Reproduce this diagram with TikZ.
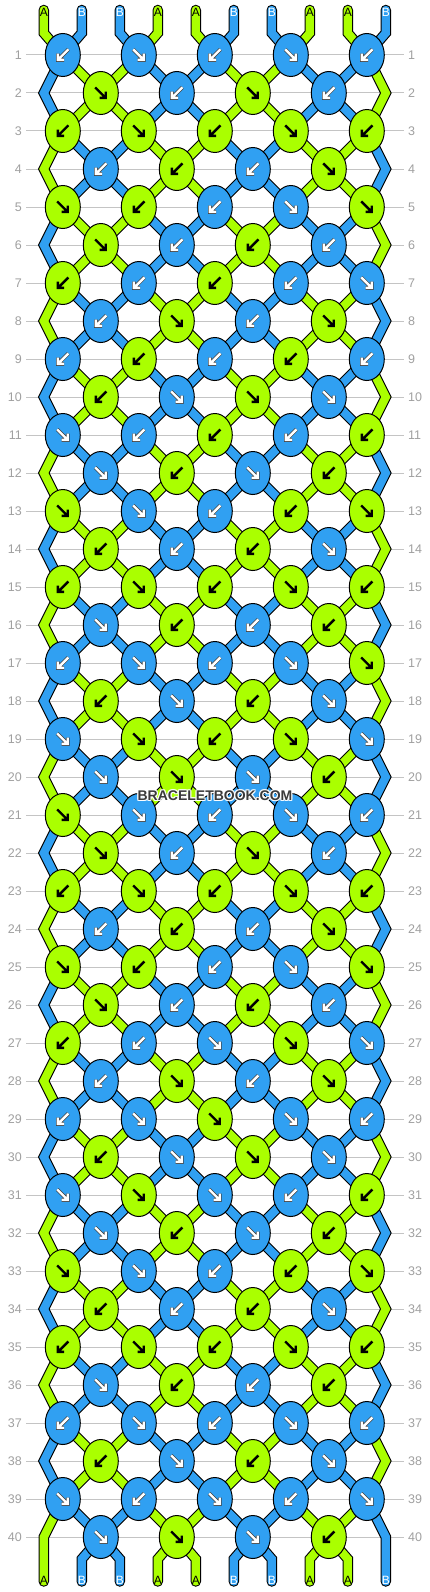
\documentclass[tikz,border=0pt]{standalone}
\usepackage{fontspec}
\setmainfont{Liberation Sans}
\usetikzlibrary{shapes.geometric}
\definecolor{c0}{HTML}{AAFF00}
\definecolor{c1}{HTML}{30A0F2}
\definecolor{gridc}{HTML}{C4C4C4}
\definecolor{numc}{HTML}{A0A0A0}
\definecolor{wmc}{HTML}{3A3A3A}
\colorlet{a0}{black}
\colorlet{a1}{white}
\colorlet{t0}{black}
\colorlet{t1}{white}
\newcommand\tipletter[1]{\ifnum#1=0 A\else B\fi}
\newcommand\knotarrow[3]{%
  \begin{scope}[shift={(#1.center)},xscale=#2]
    \ifnum#3=1
      \draw[arrowhalo] (5.6,-5.6) -- (-4.2,4.2) (-4.9,-1.3) -- (-4.9,4.9) -- (1.3,4.9);
    \fi
    \draw[arrowline,draw=a#3] (5.6,-5.6) -- (-4.2,4.2) (-4.9,-1.3) -- (-4.9,4.9) -- (1.3,4.9);
  \end{scope}}
\begin{document}
\begin{tikzpicture}[x=1pt,y=-1pt,
  gridline/.style={draw=gridc,line width=1pt},
  rownum/.style={inner sep=0pt,text=numc,font=\fontsize{12.5}{12.5}\selectfont},
  strout/.style={draw=black,line width=10.5pt,line cap=round,line join=miter},
  strfill/.style={line width=8.3pt,line cap=round,line join=miter},
  knot/.style={ellipse,draw=black,line width=1pt,minimum width=35pt,minimum height=43pt,inner sep=0pt},
  tiplab/.style={inner sep=0pt,font=\fontsize{12}{12}\selectfont},
  arrowline/.style={line width=2.4pt,line cap=butt,line join=miter},
  arrowhalo/.style={line width=3.8pt,line cap=butt,line join=miter,draw=black!75},
  wm/.style={inner sep=0pt,font=\fontsize{14}{14}\selectfont\bfseries}
]
% ---------- simulation of the strings ----------
\foreach \p/\v in {0/0,1/1,2/1,3/0,4/0,5/1,6/1,7/0,8/0,9/1}{%
  \expandafter\xdef\csname S\p\endcsname{\v}%
  \expandafter\xdef\csname G0-\p\endcsname{\v}%
}
\foreach \row [count=\rr] in {{L,R,L,R,L},{R,L,R,L},{L,R,L,R,L},{L,L,L,R},{R,L,L,R,R},
  {R,L,L,L},{L,L,L,L,R},{L,R,L,R},{L,L,L,L,L},{L,R,R,R},
  {R,L,L,L,L},{R,L,R,L},{R,R,L,L,R},{L,L,L,R},{L,R,L,R,L},
  {R,L,L,L},{L,R,L,R,R},{L,R,L,R},{R,R,L,R,R},{R,R,R,L},
  {R,R,L,R,L},{R,L,R,L},{L,R,L,R,L},{L,L,L,R},{R,L,L,R,R},
  {R,L,L,L},{L,L,R,R,R},{L,R,L,R},{L,R,R,R,L},{L,R,R,R},
  {R,R,R,L,L},{R,L,R,L},{R,R,L,L,R},{L,L,L,R},{L,R,L,R,L},
  {R,L,L,L},{L,R,L,R,L},{L,R,L,R},{R,L,R,L,R},{R,R,R,L}}{%
  \ifodd\rr\relax\def\off{0}\else\def\off{1}\fi
  \foreach \dd [count=\kk from 0] in \row {%
    \pgfmathtruncatemacro\pa{2*\kk+\off}%
    \pgfmathtruncatemacro\pb{\pa+1}%
    \edef\colA{\csname S\pa\endcsname}%
    \edef\colB{\csname S\pb\endcsname}%
    \if R\dd \let\kc\colA \else \let\kc\colB \fi
    \expandafter\xdef\csname K\rr-\kk\endcsname{\kc}%
    \expandafter\xdef\csname D\rr-\kk\endcsname{\dd}%
    \expandafter\xdef\csname S\pa\endcsname{\colB}%
    \expandafter\xdef\csname S\pb\endcsname{\colA}%
  }%
  \foreach \p in {0,...,9}{\expandafter\xdef\csname G\rr-\p\endcsname{\csname S\p\endcsname}}%
}
% ---------- canvas ----------
\path[use as bounding box] (0,0) rectangle (430,1592);
\fill[white] (0,0) rectangle (430,1592);
% ---------- grid and row numbers ----------
\foreach \rr in {1,...,40}{%
  \pgfmathsetmacro\yy{55+38*(\rr-1)}%
  \coordinate (gl-\rr) at (26,\yy);
  \coordinate (gr-\rr) at (404,\yy);
  \draw[gridline] (gl-\rr) -- (gr-\rr);
  \node[rownum,anchor=east] (ln-\rr) at (22,\yy) {\rr};
  \node[rownum,anchor=west] (rn-\rr) at (408,\yy) {\rr};
}
% ---------- string coordinates ----------
\foreach \rr in {1,...,40}{%
  \pgfmathsetmacro\yy{55+38*(\rr-1)}%
  \foreach \p in {0,...,9}{%
    \pgfmathsetmacro\xx{isodd(\rr) ? 62.8+76*floor(\p/2) : (\p==0 ? 43.8 : (\p==9 ? 385.8 : 100.8+76*floor((\p-1)/2)))}%
    \coordinate (n-\rr-\p) at (\xx,\yy);
  }
}
\foreach \p in {0,...,9}{%
  \pgfmathsetmacro\xx{43.8+38*\p}%
  \coordinate (t-\p) at (\xx,10);
  \coordinate (u-\p) at (\xx,33);
  \coordinate (v-\p) at (\xx,1559);
  \coordinate (w-\p) at (\xx,1581.5);
}
% ---------- string outlines ----------
\foreach \p in {0,...,9}{%
  \draw[strout] (t-\p) -- (u-\p) \foreach \rr in {1,...,40}{ -- (n-\rr-\p)} -- (v-\p) -- (w-\p);
}
% ---------- string fills ----------
\foreach \p in {1,...,8}{%
  \edef\sv{\csname G0-\p\endcsname}%
  \draw[strfill,draw=c\sv] (t-\p) -- (u-\p) -- (n-1-\p);
  \foreach \rr in {1,...,39}{%
    \pgfmathtruncatemacro\rn{\rr+1}%
    \edef\sv{\csname G\rr-\p\endcsname}%
    \draw[strfill,draw=c\sv] (n-\rr-\p) -- (n-\rn-\p);
  }
  \edef\sv{\csname G40-\p\endcsname}%
  \draw[strfill,draw=c\sv] (n-40-\p) -- (v-\p) -- (w-\p);
}
\foreach \p in {0,9}{%
  \edef\sv{\csname G0-\p\endcsname}%
  \draw[strfill,draw=c\sv] (t-\p) -- (u-\p) -- (n-1-\p);
  \foreach \rr in {1,3,...,37}{%
    \pgfmathtruncatemacro\ra{\rr+1}%
    \pgfmathtruncatemacro\rb{\rr+2}%
    \edef\sv{\csname G\rr-\p\endcsname}%
    \draw[strfill,draw=c\sv] (n-\rr-\p) -- (n-\ra-\p) -- (n-\rb-\p);
  }
  \edef\sv{\csname G39-\p\endcsname}%
  \draw[strfill,draw=c\sv] (n-39-\p) -- (n-40-\p) -- (v-\p) -- (w-\p);
}
% ---------- knots ----------
\foreach \rr in {1,...,40}{%
  \pgfmathsetmacro\yy{55+38*(\rr-1)}%
  \pgfmathsetmacro\xo{isodd(\rr) ? 62.8 : 100.8}%
  \pgfmathtruncatemacro\nk{isodd(\rr) ? 4 : 3}%
  \foreach \kk in {0,...,\nk}{%
    \edef\kc{\csname K\rr-\kk\endcsname}%
    \edef\kd{\csname D\rr-\kk\endcsname}%
    \if R\kd \def\xs{-1}\else\def\xs{1}\fi
    \pgfmathsetmacro\kx{\xo+76*\kk}%
    \node[knot,fill=c\kc] (k-\rr-\kk) at (\kx,\yy) {};
    \knotarrow{k-\rr-\kk}{\xs}{\kc}
  }
}
% ---------- tip letters ----------
\foreach \p in {0,...,9}{%
  \pgfmathsetmacro\xx{43.8+38*\p}%
  \edef\sv{\csname G0-\p\endcsname}%
  \node[tiplab,text=t\sv] (ta-\p) at (\xx,12.5) {\tipletter{\sv}};
  \edef\sv{\csname G40-\p\endcsname}%
  \node[tiplab,text=t\sv] (ba-\p) at (\xx,1580.5) {\tipletter{\sv}};
}
% ---------- watermark ----------
\foreach \hx/\hy [count=\i] in {214/795,215/795,216/795,214/796,216/796,214/797,215/797,216/797}{%
  \node[wm,text=white,opacity=0.85] (wmh-\i) at (\hx,\hy) {BRACELETBOOK.COM};
}
\node[wm,text=wmc] (wm) at (215,796) {BRACELETBOOK.COM};
\end{tikzpicture}
\end{document}
